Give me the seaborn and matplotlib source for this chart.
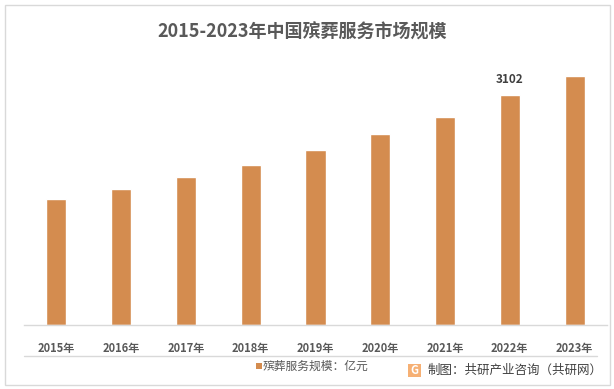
import matplotlib
matplotlib.use("Agg")
import matplotlib.pyplot as plt
from matplotlib.patches import Rectangle
import seaborn as sns
import pandas as pd

# data
years = ["2015年", "2016年", "2017年", "2018年", "2019年", "2020年", "2021年", "2022年", "2023年"]
scale = [1699, 1834, 1996, 2158, 2360, 2576, 2805, 3102, 3358]
labelled_year = "2022年"
title = "2015-2023年中国殡葬服务市场规模"
legend_text = "殡葬服务规模：亿元"
source_text = "制图：共研产业咨询（共研网）"

bar_color = "#D48C4F"
text_gray = "#595959"

sns.set_theme(style="white")
plt.rcParams["font.family"] = ["Noto Sans CJK SC", "DejaVu Sans"]

df = pd.DataFrame({"year": years, "scale": scale})

fig = plt.figure(figsize=(6.14, 3.89), dpi=100)
ax = fig.add_axes([24 / 614, 64 / 389, 583 / 614, 265 / 389])

sns.barplot(data=df, x="year", y="scale", color=bar_color, width=0.31,
            saturation=1, ax=ax)

ax.set_ylim(0, 265 * 3102 / 230)
ax.set_xlabel("")
ax.set_ylabel("")
ax.set_yticks([])
for s in ["left", "right", "top"]:
    ax.spines[s].set_visible(False)
ax.spines["bottom"].set_color("#D9D9D9")
ax.spines["bottom"].set_linewidth(1)
ax.tick_params(axis="x", length=0, pad=12, labelsize=8, labelcolor=text_gray)
for lab in ax.get_xticklabels():
    lab.set_fontweight("bold")

# value label on 2022 only
i = years.index(labelled_year)
ax.text(i, scale[i] + 120, str(scale[i]), ha="center", va="bottom",
        fontsize=8.5, fontweight="bold", color="#404040")

# title
fig.text(302 / 614, 1 - 32 / 389, title, ha="center", va="center",
         fontsize=13, fontweight="bold", color=text_gray)

# separator line under the tick labels
fig.add_artist(plt.Line2D([24 / 614, 597 / 614], [1 - 356 / 389, 1 - 356 / 389],
                          color="#D9D9D9", lw=1))

# legend
fig.add_artist(Rectangle((256 / 614, 1 - 369 / 389), 6 / 614, 6 / 389,
                         facecolor=bar_color, edgecolor="none"))
fig.text(263 / 614, 1 - 366 / 389, legend_text, ha="left", va="center",
         fontsize=8.5, fontweight="medium", color=text_gray)

# source / logo
fig.add_artist(Rectangle((408 / 614, 1 - 377 / 389), 13 / 614, 13 / 389,
                         facecolor="#F5A35C", edgecolor="none", alpha=0.85))
fig.text(414.5 / 614, 1 - 370.5 / 389, "G", ha="center", va="center",
         fontsize=8, fontweight="bold", color="white")
fig.text(428 / 614, 1 - 370 / 389, source_text, ha="left", va="center",
         fontsize=9, color="#404040")

# outer frame
fig.add_artist(Rectangle((4.5 / 614, 4 / 389), 605 / 614, 380 / 389,
                         facecolor="none", edgecolor="#D9D9D9", lw=1))

fig.savefig("out.png", dpi=100)
